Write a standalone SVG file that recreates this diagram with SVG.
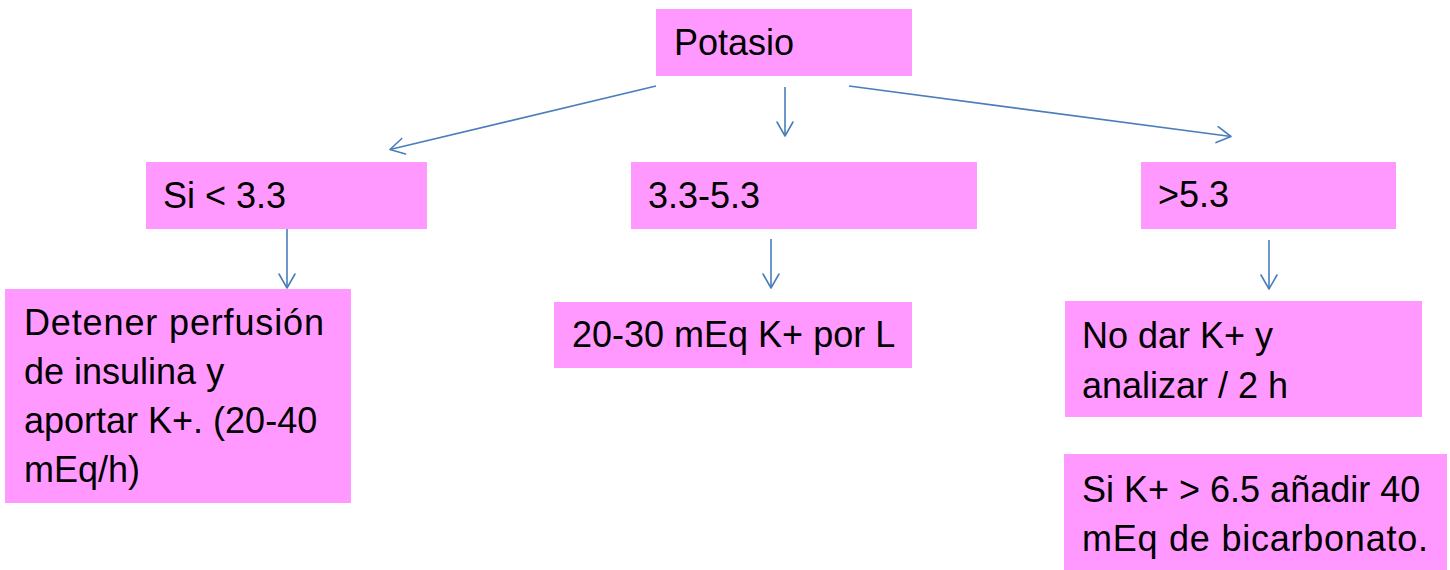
<svg xmlns="http://www.w3.org/2000/svg" width="1450" height="570" viewBox="0 0 1450 570">
  <style>
    .box { fill: #ff99ff; }
    .lbl { font-family: "Liberation Sans", Arial, sans-serif; font-size: 36px; fill: #000; }
    .conn { stroke: #4a7ebb; stroke-width: 1.6; fill: none; marker-end: url(#open-arrow); }
  </style>
  <defs>
    <!-- open V arrowhead, drawn back from the tip -->
    <marker id="open-arrow" markerUnits="userSpaceOnUse" viewBox="-16 -10 18 20" markerWidth="18" markerHeight="20" refX="0" refY="0" orient="auto" overflow="visible">
      <path d="M-14,-8 L0,0 L-14,8" fill="none" stroke="#4a7ebb" stroke-width="1.6" stroke-linecap="round" stroke-linejoin="round"/>
    </marker>
  </defs>
  <rect width="1450" height="570" fill="#ffffff"/>

  <g id="connectors">
    <line class="conn" x1="656" y1="86" x2="390" y2="149.5"/>
    <line class="conn" x1="785" y1="87" x2="785" y2="136"/>
    <line class="conn" x1="849" y1="86" x2="1231" y2="136.5"/>
    <line class="conn" x1="287" y1="229" x2="287" y2="288"/>
    <line class="conn" x1="771" y1="239" x2="771" y2="288"/>
    <line class="conn" x1="1269" y1="240" x2="1269" y2="289"/>
  </g>

  <g id="potasio">
    <rect class="box" x="656" y="9" width="256" height="67"/>
    <text class="lbl" x="674" y="55">Potasio</text>
  </g>

  <g id="bajo">
    <rect class="box" x="146" y="162" width="281" height="67"/>
    <text class="lbl" x="163" y="207.5">Si &lt; 3.3</text>
  </g>

  <g id="normal">
    <rect class="box" x="631" y="162" width="346" height="67"/>
    <text class="lbl" x="648" y="207.5">3.3-5.3</text>
  </g>

  <g id="alto">
    <rect class="box" x="1141" y="162" width="255" height="67"/>
    <text class="lbl" x="1158" y="207">&gt;5.3</text>
  </g>

  <g id="accion-bajo">
    <rect class="box" x="5" y="289" width="346" height="214"/>
    <text class="lbl" x="24" y="335" textLength="300" lengthAdjust="spacing">Detener perfusión</text>
    <text class="lbl" x="24" y="384">de insulina y</text>
    <text class="lbl" x="24" y="433">aportar K+. (20-40</text>
    <text class="lbl" x="24" y="482">mEq/h)</text>
  </g>

  <g id="accion-normal">
    <rect class="box" x="554" y="302" width="358" height="66"/>
    <text class="lbl" x="572" y="347">20-30 mEq K+ por L</text>
  </g>

  <g id="accion-alto">
    <rect class="box" x="1065" y="301" width="357" height="116"/>
    <text class="lbl" x="1082" y="348">No dar K+ y</text>
    <text class="lbl" x="1082" y="397.5">analizar / 2 h</text>
  </g>

  <g id="bicarbonato">
    <rect class="box" x="1064" y="454" width="383" height="116"/>
    <text class="lbl" x="1082" y="502">Si K+ &gt; 6.5 añadir 40</text>
    <text class="lbl" x="1082" y="551" textLength="346" lengthAdjust="spacing">mEq de bicarbonato.</text>
  </g>
</svg>
